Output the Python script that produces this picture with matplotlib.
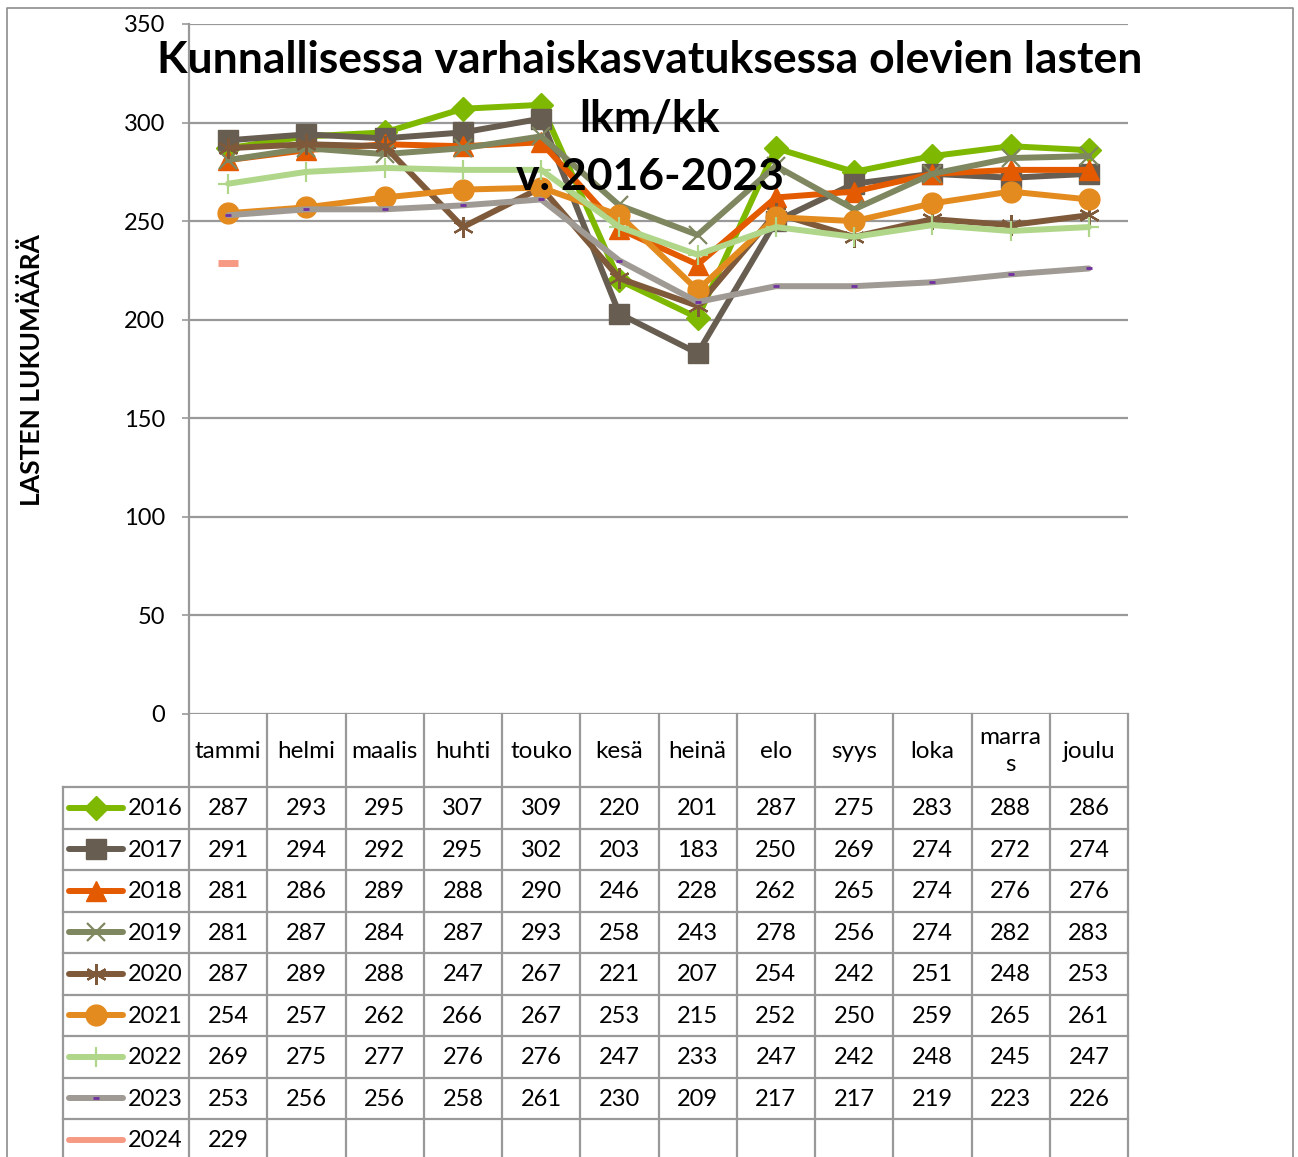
import matplotlib
matplotlib.use("Agg")
import matplotlib.pyplot as plt

plt.rcParams['font.family'] = ['Lato', 'DejaVu Sans']

# ---------------- data ----------------
month_labels = ["tammi", "helmi", "maalis", "huhti", "touko", "kesä",
                "heinä", "elo", "syys", "loka", "marra\ns", "joulu"]
years = ["2016", "2017", "2018", "2019", "2020", "2021", "2022", "2023", "2024"]
v2016 = [287, 293, 295, 307, 309, 220, 201, 287, 275, 283, 288, 286]
v2017 = [291, 294, 292, 295, 302, 203, 183, 250, 269, 274, 272, 274]
v2018 = [281, 286, 289, 288, 290, 246, 228, 262, 265, 274, 276, 276]
v2019 = [281, 287, 284, 287, 293, 258, 243, 278, 256, 274, 282, 283]
v2020 = [287, 289, 288, 247, 267, 221, 207, 254, 242, 251, 248, 253]
v2021 = [254, 257, 262, 266, 267, 253, 215, 252, 250, 259, 265, 261]
v2022 = [269, 275, 277, 276, 276, 247, 233, 247, 242, 248, 245, 247]
v2023 = [253, 256, 256, 258, 261, 230, 209, 217, 217, 219, 223, 226]
v2024 = [229]
series = [v2016, v2017, v2018, v2019, v2020, v2021, v2022, v2023, v2024]
title_lines = ["Kunnallisessa varhaiskasvatuksessa olevien lasten", "lkm/kk", "v. 2016-2023"]
ylabel = "LASTEN LUKUMÄÄRÄ"

# ---------------- styles ----------------
styles = [
    dict(color="#7fb800", marker="D", ms=12, mec="#7fb800", mfc="#7fb800", mew=1),
    dict(color="#675d50", marker="s", ms=14, mec="#675d50", mfc="#675d50", mew=1),
    dict(color="#e35a00", marker="^", ms=14, mec="#e35a00", mfc="#e35a00", mew=1),
    dict(color="#7f8760", marker="x", ms=13, mec="#7f8760", mfc="#7f8760", mew=1.6),
    dict(color="#7f5a3a", marker=(6, 2, 0), ms=15, mec="#7f5a3a", mfc="#7f5a3a", mew=1.6),
    dict(color="#e38b1f", marker="o", ms=15, mec="#e38b1f", mfc="#e38b1f", mew=1),
    dict(color="#b0d68a", marker="+", ms=15, mec="#b0d68a", mfc="#b0d68a", mew=1.6),
    dict(color="#a09a94", marker="_", ms=5, mec="#7030a0", mfc="#7030a0", mew=2),
    dict(color="#f79a84", marker="_", ms=15, mec="#f79a84", mfc="#f79a84", mew=5),
]
LW = 4.3
GRID = "#999999"
FS = 17

W, H = 1298, 1157
fig = plt.figure(figsize=(W / 100, H / 100), dpi=100)
fig.patch.set_facecolor("white")

# plot area in pixel coords
L, R, T, B = 189, 1128, 24, 714
ax = fig.add_axes([L / W, 1 - B / H, (R - L) / W, (B - T) / H])
ax.set_xlim(0, 12)
ax.set_ylim(0, 350)
ax.set_yticks(range(0, 351, 50))
ax.set_xticks([])
ax.grid(axis="y", color=GRID, lw=1.6)
ax.set_axisbelow(True)
for s in ["top", "right", "bottom"]:
    ax.spines[s].set_visible(False)
ax.spines["left"].set_color(GRID)
ax.spines["left"].set_linewidth(1.6)
ax.tick_params(axis="y", length=5, width=1.2, color=GRID, pad=12, labelsize=FS)
ax.patch.set_alpha(0)

xs = [i + 0.5 for i in range(12)]
for vals, st in zip(series, styles):
    ax.plot(xs[:len(vals)], vals, lw=LW, solid_capstyle="round",
            solid_joinstyle="round", clip_on=False, **st)

# ---------------- overlay (pixel coordinates) ----------------
ov = fig.add_axes([0, 0, 1, 1])
ov.set_xlim(0, W)
ov.set_ylim(H, 0)
ov.axis("off")
ov.patch.set_alpha(0)

# outer chart border
ov.plot([7, 7, 1293, 1293], [H + 5, 8, 8, H + 5], color="#8c8c8c", lw=1.2, clip_on=False)

cw = (R - L) / 12
row_h = 41.5
first_row = 787
n_rows = len(years)
for i in range(13):
    x = L + i * cw
    ov.plot([x, x], [B, H + 5], color=GRID, lw=1.6)
ov.plot([63, 63], [first_row, H + 5], color=GRID, lw=1.6)
for r in range(n_rows + 1):
    y = first_row + r * row_h
    ov.plot([63, R], [y, y], color=GRID, lw=1.6)

# month labels
for i, lab in enumerate(month_labels):
    ov.text(L + (i + 0.5) * cw, 751, lab, ha="center", va="center", fontsize=17.5,
            linespacing=1.35)

# rows
for r, (yr, vals, st) in enumerate(zip(years, series, styles)):
    yc = first_row + (r + 0.5) * row_h
    ov.plot([69, 123], [yc, yc], color=st["color"], lw=LW, solid_capstyle="round")
    mst = dict(st)
    mst.pop("color")
    if r < len(years) - 1:
        ov.plot([96], [yc], linestyle="none", **mst)
    ov.text(128, yc + 1, yr, ha="left", va="center", fontsize=FS)
    for i, v in enumerate(vals):
        ov.text(L + (i + 0.5) * cw, yc + 1, str(v), ha="center", va="center", fontsize=FS)

# titles
for k, line in enumerate(title_lines):
    ov.text(650, 60 + k * 58.5, line, ha="center", va="center", fontsize=32,
            fontweight="bold")

ov.text(32, 370, ylabel, rotation=90, ha="center", va="center", fontsize=19,
        fontweight="bold")

fig.savefig("out.png", dpi=100)
